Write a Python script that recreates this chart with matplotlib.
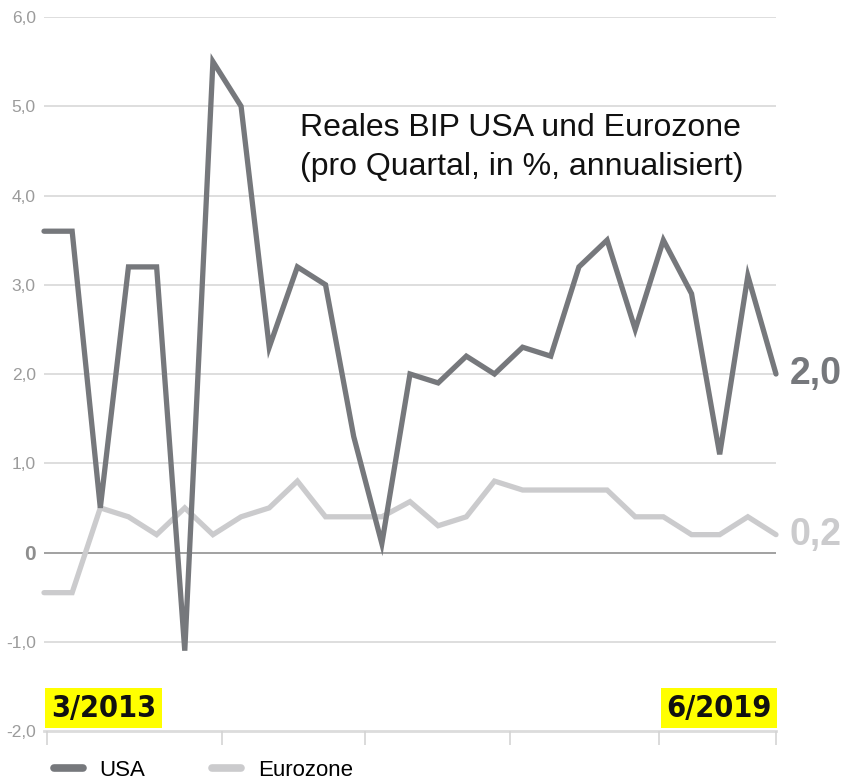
import matplotlib
matplotlib.use("Agg")
import matplotlib.pyplot as plt
from matplotlib import font_manager
import numpy as np

plt.rcParams["font.family"] = ["Liberation Sans", "DejaVu Sans"]

# quarterly real GDP growth, annualised, 3/2013 .. 6/2019
usa = [3.6, 3.6, 0.5, 3.2, 3.2, -1.1, 5.5, 5.0, 2.3, 3.2, 3.0, 1.3, 0.1, 2.0,
       1.9, 2.2, 2.0, 2.3, 2.2, 3.2, 3.5, 2.5, 3.5, 2.9, 1.1, 3.1, 2.0]
eurozone = [-0.45, -0.45, 0.5, 0.4, 0.2, 0.5, 0.2, 0.4, 0.5, 0.8, 0.4, 0.4, 0.4,
            0.57, 0.3, 0.4, 0.8, 0.7, 0.7, 0.7, 0.7, 0.4, 0.4, 0.2, 0.2, 0.4, 0.2]
y_ticks = [-2, -1, 0, 1, 2, 3, 4, 5, 6]
y_labels = ["-2,0", "-1,0", "0", "1,0", "2,0", "3,0", "4,0", "5,0", "6,0"]
first_label = "3/2013"
last_label = "6/2019"
title = "Reales BIP USA und Eurozone\n(pro Quartal, in %, annualisiert)"

USA_COL = "#76787c"
EZ_COL = "#cbcbcd"

# condensed bold face for the date boxes, if one is installed
fonts = font_manager.fontManager.ttflist
names = {f.name for f in fonts}
if "Liberation Sans Narrow" in names:
    date_font = dict(fontfamily="Liberation Sans Narrow", fontsize=25)
elif any(f.name == "DejaVu Sans" and f.stretch == "condensed" for f in fonts):
    date_font = dict(fontfamily="DejaVu Sans", fontstretch="condensed", fontsize=22)
else:
    date_font = dict(fontfamily="Liberation Sans", fontsize=22.5)

x = np.arange(len(usa))

fig = plt.figure(figsize=(8.45, 7.82), dpi=100)
ax = fig.add_axes([44 / 845, 51 / 782, 732 / 845, 714 / 782])

for t in y_ticks:
    if t == 0:
        ax.axhline(t, color="#9a9a9a", lw=1.3, zorder=1)
    elif t == -2:
        ax.axhline(t, color="#dcdcdc", lw=2.0, zorder=1, clip_on=False)
    else:
        ax.axhline(t, color="#d4d4d4", lw=1.1, zorder=1)

ax.plot(x, eurozone, color=EZ_COL, lw=3.8, solid_capstyle="round",
        solid_joinstyle="miter", clip_on=False, zorder=3, label="Eurozone")
ax.plot(x, usa, color=USA_COL, lw=3.8, solid_capstyle="round",
        solid_joinstyle="miter", clip_on=False, zorder=4, label="USA")

ax.set_xlim(0, len(usa) - 1)
ax.set_ylim(-2, 6)
for s in ax.spines.values():
    s.set_visible(False)

ax.set_yticks(y_ticks)
ax.set_yticklabels(y_labels)
ax.tick_params(axis="y", length=0, pad=6, labelsize=12.5, labelcolor="#9b9b9b")
for lab in ax.get_yticklabels():
    if lab.get_text() == "0":
        lab.set_fontweight("bold")
        lab.set_fontsize(15)
        lab.set_color("#8e8e8e")

ax.set_xticks([0.1, 6.32, 11.4, 16.55, 21.83, 26])
ax.set_xticklabels([])
ax.tick_params(axis="x", length=10, width=1.2, color="#d4d4d4", direction="out")

# end value labels
ax.annotate(f"{usa[-1]:.1f}".replace(".", ","), (x[-1], usa[-1]),
            xytext=(10, 0), textcoords="offset points", va="center", ha="left",
            fontsize=27, fontweight="bold", color=USA_COL, annotation_clip=False)
ax.annotate(f"{eurozone[-1]:.1f}".replace(".", ","), (x[-1], eurozone[-1]),
            xytext=(10, 0), textcoords="offset points", va="center", ha="left",
            fontsize=27, fontweight="bold", color=EZ_COL, annotation_clip=False)

# date labels
box = dict(facecolor="#ffff00", edgecolor="none", pad=4)
ax.annotate(first_label, (x[0], -2), xytext=(5, 6), textcoords="offset points",
            ha="left", va="bottom", fontweight="bold", color="#111111",
            bbox=box, annotation_clip=False, **date_font)
ax.annotate(last_label, (x[-1], -2), xytext=(-3, 6), textcoords="offset points",
            ha="right", va="bottom", fontweight="bold", color="#111111",
            bbox=box, annotation_clip=False, **date_font)

fig.text(300 / 845, 1 - 113 / 782, title, ha="left", va="top", fontsize=23,
         linespacing=1.38, color="#111111")

handles, labels = ax.get_legend_handles_labels()
leg = fig.legend(handles[::-1], labels[::-1], loc="center left",
                 bbox_to_anchor=(34 / 845, 1 - 770 / 782), ncol=2, frameon=False,
                 fontsize=16, handlelength=1.3, handletextpad=0.75, columnspacing=3.0)
for ln in leg.get_lines():
    ln.set_linewidth(5.5)

fig.savefig("out.png", dpi=100)
